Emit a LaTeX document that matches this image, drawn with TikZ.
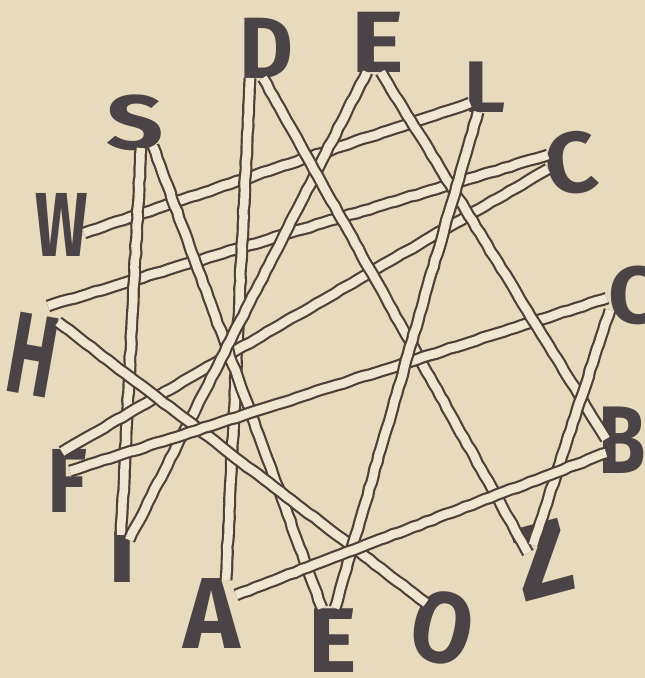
\documentclass[tikz,border=0pt]{standalone}
\usepackage{fontspec}
\setmainfont{Fira Sans}
\usepackage{graphicx}
\usetikzlibrary{decorations.pathmorphing}
\definecolor{paper}{HTML}{E7DABD}
\definecolor{ink}{HTML}{4A4446}
\definecolor{rope}{HTML}{4E4038}
\definecolor{ropefill}{HTML}{F0E7D2}
\newcommand{\Lttr}[3]{\scalebox{#2}[1]{\fontsize{#1}{#1}\selectfont\bfseries #3}}
\begin{document}
\begin{tikzpicture}[x=1pt,y=-1pt,
  letter/.style={text=ink, inner sep=0pt, anchor=center},
  band/.style={draw=rope, double=ropefill, double distance=8.5pt, line width=2.2pt,
    decorate, decoration={random steps, segment length=7pt, amplitude=0.5pt}}]
\pgfmathsetseed{7}
\fill[paper] (0,0) rectangle (645,678);
\useasboundingbox (0,0) rectangle (645,678);
\clip (0,0) rectangle (645,678);
% letters
\node[letter] (D)  at (266,48)  {\Lttr{87}{0.95}{D}};
\node[letter] (E)  at (378,42)  {\Lttr{87}{1.15}{E}};
\node[letter] (L)  at (485,87)  {\Lttr{73}{1.1}{L}};
\node[letter] (S)  at (135,123) {\Lttr{77}{1.3}{S}};
\node[letter, rotate=8] (C) at (571,163) {\Lttr{86}{1.05}{C}};
\node[letter] (W)  at (62,225)  {\Lttr{91}{0.68}{W}};
\node[letter, rotate=-10] (H) at (33,355) {\Lttr{116}{0.62}{H}};
\node[letter] (K)  at (633,295) {\Lttr{81}{1.05}{C}};
\node[letter] (F)  at (67,481)  {\Lttr{91}{0.9}{F}};
\node[letter] (B)  at (622,440) {\Lttr{96}{0.8}{B}};
\node[letter] (I)  at (122,557) {\Lttr{73}{1.3}{I}};
\node[letter, rotate=15] (Z) at (543,560) {\Lttr{105}{1.0}{Z}};
\node[letter] (A)  at (212,613) {\Lttr{101}{0.95}{A}};
\node[letter] (U)  at (333,641) {\Lttr{92}{1.0}{E}};
\node[letter, rotate=-12] (O) at (442,628) {\Lttr{100}{0.88}{O}};
% band ends
\coordinate (Da) at (250,78);
\coordinate (Dz) at (263,78);
\coordinate (Ei) at (367,72);
\coordinate (Eb) at (381,72);
\coordinate (Lw) at (470,103);
\coordinate (Le) at (478,112);
\coordinate (Si) at (141,148);
\coordinate (Se) at (153,146);
\coordinate (Ch) at (548,155);
\coordinate (Cf) at (548,169);
\coordinate (Wl) at (84,233);
\coordinate (Hc) at (48,306);
\coordinate (Ho) at (58,322);
\coordinate (Kf) at (607,298);
\coordinate (Kz) at (610,310);
\coordinate (Fc) at (62,452);
\coordinate (Fk) at (70,471);
\coordinate (Be) at (606,439);
\coordinate (Ba) at (606,453);
\coordinate (Is) at (121,535);
\coordinate (Ie) at (129,540);
\coordinate (Zd) at (528,553);
\coordinate (Zk) at (533,545);
\coordinate (Ad) at (226,580);
\coordinate (Ab) at (236,595);
\coordinate (Us) at (322,608);
\coordinate (Ul) at (335,608);
\coordinate (Oh) at (426,603);
% bands
\draw[band] (Wl) -- (Lw);
\draw[band] (Hc) -- (Ch);
\draw[band] (Si) -- (Is);
\draw[band] (Da) -- (Ad);
\draw[band] (Fc) -- (Cf);
\draw[band] (Se) -- (Us);
\draw[band] (Ei) -- (Ie);
\draw[band] (Dz) -- (Zd);
\draw[band] (Ho) -- (Oh);
\draw[band] (Fk) -- (Kf);
\draw[band] (Eb) -- (Be);
\draw[band] (Le) -- (Ul);
\draw[band] (Kz) -- (Zk);
\draw[band] (Ab) -- (Ba);
\end{tikzpicture}
\end{document}
